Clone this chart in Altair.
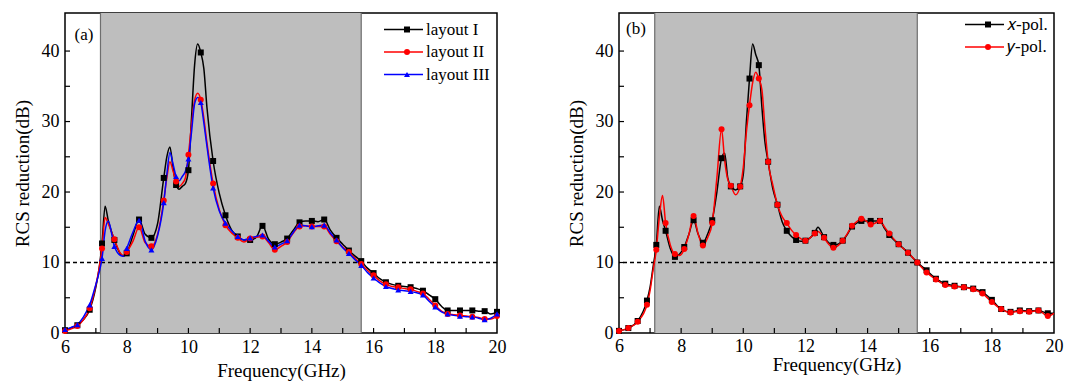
import altair as alt
import pandas as pd

FONT = "Liberation Serif"

# ---------------- panel (a): three metasurface layouts ----------------
freq_a = [6.0, 6.2, 6.4, 6.6, 6.8, 7.0, 7.1, 7.2, 7.3, 7.4, 7.6, 7.8, 7.9, 8.0,
          8.2, 8.4, 8.6, 8.8, 9.0, 9.2, 9.3, 9.4, 9.5, 9.6, 9.7, 9.8, 9.9, 10.0,
          10.1, 10.2, 10.3, 10.4, 10.5, 10.6, 10.8, 11.0, 11.2, 11.4, 11.6, 11.8,
          12.0, 12.2, 12.4, 12.6, 12.8, 13.0, 13.2, 13.4, 13.6, 13.8, 14.0, 14.2,
          14.4, 14.6, 14.8, 15.0, 15.2, 15.4, 15.6, 15.8, 16.0, 16.2, 16.4, 16.6,
          16.8, 17.0, 17.2, 17.4, 17.6, 17.8, 18.0, 18.2, 18.4, 18.6, 18.8, 19.0,
          19.2, 19.4, 19.6, 19.8, 20.0]
layout_1 = [0.4, 0.7, 1.1, 1.9, 3.3, 6.5, 9.0, 12.7, 18.0, 16.0, 13.2, 11.2, 10.9, 11.3,
            13.8, 16.1, 14.0, 13.5, 15.5, 22.0, 25.0, 26.4, 23.5, 21.0, 20.4, 20.8, 21.2, 23.1,
            30.5, 38.0, 41.0, 39.8, 37.5, 32.0, 24.4, 19.8, 16.7, 14.6, 13.7, 13.2,
            13.2, 13.6, 15.2, 13.3, 12.6, 12.9, 13.4, 14.6, 15.7, 15.9, 15.9, 15.8,
            16.1, 14.6, 13.5, 12.6, 11.7, 10.9, 10.2, 9.2, 8.5, 7.7, 7.2, 6.9,
            6.7, 6.6, 6.5, 6.3, 6.0, 5.4, 4.8, 3.8, 3.2, 3.2, 3.2, 3.2,
            3.2, 3.1, 3.1, 2.7, 3.0]
layout_2 = [0.3, 0.6, 1.0, 1.9, 3.5, 6.8, 9.0, 12.0, 16.4, 15.5, 13.3, 11.3, 11.0, 11.5,
            13.0, 15.0, 12.8, 12.3, 14.0, 18.8, 22.0, 24.3, 23.0, 21.5, 20.8, 21.2, 22.0, 25.3,
            29.5, 33.0, 34.0, 33.1, 30.5, 27.0, 21.2, 17.5, 15.3, 14.2, 13.5, 12.9,
            13.4, 13.6, 13.7, 12.8, 11.8, 12.3, 12.9, 14.2, 15.1, 15.2, 15.1, 15.1,
            15.1, 14.0, 13.0, 12.2, 11.5, 10.6, 9.8, 8.9, 8.2, 7.4, 6.9, 6.6,
            6.5, 6.3, 6.2, 5.9, 5.6, 4.8, 3.9, 3.1, 2.7, 2.6, 2.5, 2.4,
            2.3, 2.2, 2.0, 2.0, 2.4]
layout_3 = [0.5, 0.8, 1.2, 2.3, 4.0, 6.9, 8.5, 10.6, 14.5, 15.9, 12.3, 11.0, 10.9, 12.0,
            14.3, 16.0, 13.0, 11.8, 13.8, 18.5, 22.5, 25.6, 24.0, 22.2, 21.6, 22.2, 22.9, 24.7,
            28.5, 32.5, 33.4, 32.7, 29.8, 26.5, 20.6, 17.3, 15.6, 14.5, 13.7, 13.2,
            13.5, 13.7, 13.9, 13.0, 12.2, 12.6, 13.1, 14.3, 15.3, 15.2, 15.1, 15.2,
            15.3, 14.2, 13.2, 12.1, 11.3, 10.4, 9.6, 8.6, 7.8, 7.1, 6.6, 6.3,
            6.1, 6.0, 5.9, 5.7, 5.4, 4.5, 3.7, 3.0, 2.7, 2.5, 2.4, 2.3,
            2.3, 2.1, 1.9, 2.1, 2.7]
names_a = ["layout I", "layout II", "layout III"]
colors_a = ["#000000", "#ff0000", "#0000ff"]
shapes_a = ["square", "circle", "triangle-up"]

# ---------------- panel (b): two polarisations ----------------
freq_b = [6.0, 6.3, 6.6, 6.9, 7.0, 7.1, 7.2, 7.3, 7.4, 7.5, 7.65, 7.8, 7.95, 8.1,
          8.25, 8.4, 8.55, 8.7, 8.85, 9.0, 9.15, 9.3, 9.4, 9.5, 9.6, 9.75, 9.9,
          10.0, 10.1, 10.2, 10.3, 10.4, 10.5, 10.6, 10.7, 10.8, 10.95, 11.1, 11.25,
          11.4, 11.55, 11.7, 11.85, 12.0, 12.15, 12.3, 12.4, 12.6, 12.75, 12.9, 13.05,
          13.2, 13.35, 13.5, 13.65, 13.8, 13.95, 14.1, 14.25, 14.4, 14.55, 14.7, 15.0,
          15.3, 15.6, 15.9, 16.2, 16.5, 16.8, 17.1, 17.4, 17.7, 18.0, 18.3, 18.6,
          18.9, 19.2, 19.5, 19.8, 20.0]
x_pol = [0.3, 0.7, 1.7, 4.6, 6.5, 9.5, 12.5, 18.0, 16.0, 14.5, 12.0, 10.8, 11.2, 12.2,
         14.0, 16.0, 14.0, 12.8, 14.0, 16.0, 20.0, 24.8, 25.5, 22.0, 20.8, 20.3, 20.8,
         22.5, 30.0, 36.1, 41.0, 39.5, 38.0, 32.0, 27.0, 24.3, 20.5, 18.2, 15.8,
         14.5, 13.7, 13.2, 13.0, 13.1, 13.5, 14.2, 15.0, 13.6, 12.8, 12.5, 12.6,
         13.1, 14.0, 15.1, 15.6, 15.9, 15.9, 15.9, 15.9, 15.9, 14.8, 13.9, 12.6,
         11.4, 10.0, 8.9, 7.7, 7.0, 6.7, 6.5, 6.3, 5.8, 4.7, 3.4, 3.0,
         3.2, 3.1, 3.2, 2.8, 2.8]
y_pol = [0.3, 0.7, 1.6, 4.0, 6.0, 9.0, 11.8, 16.5, 19.5, 15.6, 12.5, 11.2, 11.0, 11.9,
         14.0, 16.6, 14.0, 12.4, 13.5, 15.6, 22.0, 28.9, 24.5, 21.8, 20.9, 19.6, 20.8,
         23.5, 28.5, 32.3, 35.5, 37.0, 36.1, 34.5, 29.0, 24.3, 21.0, 18.2, 16.5,
         15.6, 14.6, 13.9, 13.4, 13.1, 13.5, 14.1, 14.4, 13.5, 12.6, 12.1, 12.4,
         13.1, 14.1, 15.2, 15.8, 16.2, 15.9, 15.4, 15.6, 15.9, 15.0, 14.1, 12.6,
         11.4, 10.0, 8.6, 7.6, 6.8, 6.6, 6.5, 6.2, 5.6, 4.4, 3.4, 2.9,
         3.1, 3.0, 3.2, 2.4, 2.8]
names_b = ["\U0001D465-pol.", "\U0001D466-pol."]
colors_b = ["#000000", "#ff0000"]
shapes_b = ["square", "circle"]

# shaded band and 10 dB threshold
band_lo, band_hi = 7.15, 15.6
threshold = 10
x_labels = [6, 8, 10, 12, 14, 16, 18, 20]
y_labels = [0, 10, 20, 30, 40]
x_minor = list(range(7, 20))
y_minor = [5, 10, 15, 20, 25, 30, 35, 40]


def long_table(freqs, series, names, marker_every):
    rows = []
    for name, vals in zip(names, series):
        for f, v in zip(freqs, vals):
            rows.append({"freq": f, "rcs": v, "series": name,
                         "marker": round(f * 10) % marker_every == 0})
    return pd.DataFrame(rows)


def panel(df, names, colors, shapes, tag, w, h, leg_x, leg_y, tag_xy,
          label_pad, title_pad):
    xs = alt.Scale(domain=[6, 20], nice=False, zero=False)
    ys = alt.Scale(domain=[0, 45.4], nice=False)
    x_axis = alt.Axis(values=x_labels, title="Frequency(GHz)", ticks=False, domain=False,
                      grid=False, labelFlush=False, labelPadding=label_pad,
                      titlePadding=title_pad)
    y_axis = alt.Axis(values=y_labels, title="RCS reduction(dB)", ticks=False, domain=False,
                      grid=False, labelFlush=False, labelPadding=6, titlePadding=9)

    band = alt.Chart(pd.DataFrame({"lo": [band_lo], "hi": [band_hi]})).mark_rect(
        fill="#bebebe").encode(
        x=alt.X("lo:Q", scale=xs, axis=x_axis), x2="hi:Q",
        y=alt.value(0), y2=alt.value(h))
    band_edges = alt.Chart(pd.DataFrame({"edge": [band_lo, band_hi]})).mark_rule(
        color="#6e6e6e", strokeWidth=1.2).encode(
        x=alt.X("edge:Q", scale=xs, axis=x_axis))
    thr = alt.Chart(pd.DataFrame({"thr": [threshold]})).mark_rule(
        color="black", strokeWidth=1.5, strokeDash=[4, 3]).encode(
        y=alt.Y("thr:Q", scale=ys, axis=y_axis))

    color = alt.Scale(domain=names, range=colors)
    lines = alt.Chart(df).mark_line(interpolate="monotone", strokeWidth=1.5).encode(
        x=alt.X("freq:Q", scale=xs, axis=x_axis),
        y=alt.Y("rcs:Q", scale=ys, axis=y_axis),
        color=alt.Color("series:N", scale=color, legend=alt.Legend(
            title=None, orient="none", legendX=leg_x, legendY=leg_y, padding=0,
            symbolType="M-3,0H3", symbolSize=169, symbolStrokeWidth=1.6,
            labelFont=FONT, labelFontSize=17, labelColor="black", labelOffset=14,
            rowPadding=4.5, labelLimit=200)),
    )

    # marker legend: label-less, coloured per entry, drawn over the line legend
    fill_expr = ""
    for n, c in zip(names[:-1], colors[:-1]):
        fill_expr += f"datum.value === '{n}' ? '{c}' : "
    fill_expr += f"'{colors[-1]}'"
    points = alt.Chart(df).transform_filter(alt.datum.marker).mark_point(
        filled=True, size=36, opacity=1).encode(
        x=alt.X("freq:Q", scale=xs, axis=x_axis),
        y=alt.Y("rcs:Q", scale=ys, axis=y_axis),
        color=alt.Color("series:N", scale=color, legend=None),
        shape=alt.Shape("series:N", scale=alt.Scale(range=shapes), legend=alt.Legend(
            title=None, orient="none", legendX=leg_x + 3.5, legendY=leg_y, padding=0,
            symbolSize=36, symbolStrokeWidth=0, symbolFillColor={"expr": fill_expr},
            labelExpr="''", labelFontSize=17, rowPadding=4.5)),
    )

    yt = alt.Chart(pd.DataFrame({"v": y_minor})).mark_rule(
        color="black", strokeWidth=1.2).encode(
        y=alt.Y("v:Q", scale=ys, axis=y_axis), x=alt.value(0), x2=alt.value(5))
    xt = alt.Chart(pd.DataFrame({"v": x_minor})).mark_rule(
        color="black", strokeWidth=1.2).encode(
        x=alt.X("v:Q", scale=xs, axis=x_axis), y=alt.value(h), y2=alt.value(h - 5))
    label = alt.Chart(pd.DataFrame({"t": [tag]})).mark_text(
        align="left", baseline="middle", font=FONT, fontSize=17, color="black").encode(
        text="t:N", x=alt.value(tag_xy[0]), y=alt.value(tag_xy[1]))

    return alt.layer(band, band_edges, thr, lines, points, yt, xt, label).properties(
        width=w, height=h)


df_a = long_table(freq_a, [layout_1, layout_2, layout_3], names_a, 4)
df_b = long_table(freq_b, [x_pol, y_pol], names_b, 3)

left = panel(df_a, names_a, colors_a, shapes_a, "(a)", 432, 320,
             330, 8, (9.5, 22), 5, 5.5)
right = panel(df_b, names_b, colors_b, shapes_b, "(b)", 435, 320,
              357, 3, (7, 16), 4, 0)

chart = alt.hconcat(left, right, spacing=59).resolve_scale(
    color="independent", shape="independent"
).properties(
    padding={"left": 12, "top": 11, "right": 2, "bottom": 0}
).configure_view(stroke="black", strokeWidth=1.5).configure_axis(
    labelFont=FONT, labelFontSize=18, labelColor="black",
    titleFont=FONT, titleFontSize=19, titleFontWeight="normal", titleColor="black"
)

chart.save("out.html", embed_options={"renderer": "svg", "actions": False})
